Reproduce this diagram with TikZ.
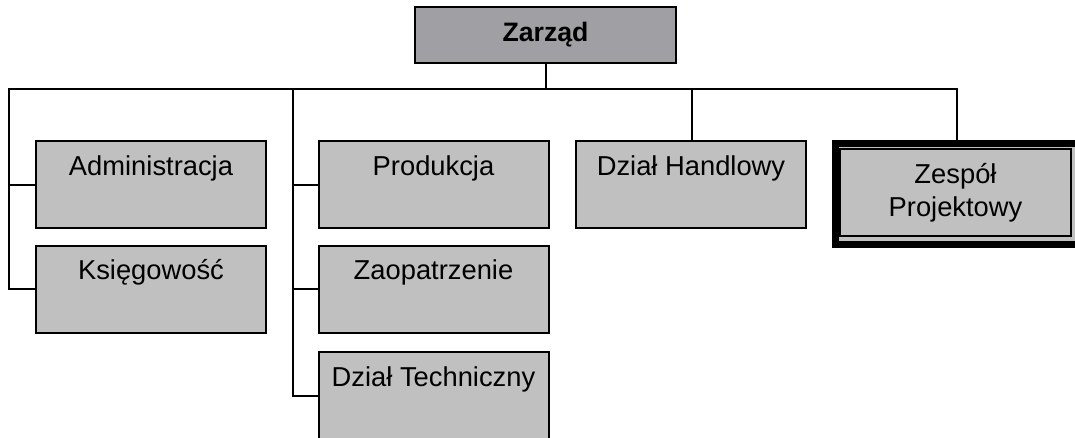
\documentclass[tikz,border=0pt]{standalone}
\usepackage{fontspec}
\setmainfont{Liberation Sans}
\definecolor{boxgray}{RGB}{192,192,192}
\definecolor{topgray}{RGB}{160,160,164}
\begin{document}
\begin{tikzpicture}[x=0.75pt,y=-0.75pt,
  unit/.style={draw=black,line width=1.5pt,fill=boxgray,rectangle,inner sep=0pt,
    minimum width=172.5pt,minimum height=65.25pt},
  txt/.style={anchor=base,inner sep=0pt,font=\fontsize{20.5}{24}\selectfont},
  conn/.style={line width=1.5pt,line cap=rect}]
\useasboundingbox (0,0) rectangle (1075,437);
\clip (0,0) rectangle (1075,437);
% top
\node[draw=black,line width=1.5pt,fill=topgray,rectangle,inner sep=0pt,
  minimum width=195.75pt,minimum height=42pt,font=\bfseries\fontsize{20}{24}\selectfont]
  (zarzad) at (545.5,35) {Zarząd};
% units
\node[unit] (adm)  at (151,184.5) {};
\node[unit] (ksi)  at (151,289) {};
\node[unit] (prod) at (433.5,184.5) {};
\node[unit] (zaop) at (433.5,289) {};
\node[unit] (tech) at (433.5,395.5) {};
\node[unit] (hand) at (691,184.5) {};
\node[txt] (tadm)  at ([yshift=-26.25pt]adm.north)  {Administracja};
\node[txt] (tksi)  at ([yshift=-26.25pt]ksi.north)  {Księgowość};
\node[txt] (tprod) at ([yshift=-26.25pt]prod.north) {Produkcja};
\node[txt] (tzaop) at ([yshift=-26.25pt]zaop.north) {Zaopatrzenie};
\node[txt] (ttech) at ([yshift=-26.25pt]tech.north) {Dział Techniczny};
\node[txt] (thand) at ([yshift=-26.25pt]hand.north) {Dział Handlowy};
% project team
\node[draw=black,line width=5.25pt,fill=boxgray,rectangle,inner sep=0pt,
  minimum width=184.9pt,minimum height=75.75pt] (zesp) at (958.75,194) {};
\node[draw=black,line width=1pt,rectangle,inner sep=0pt,
  minimum width=173.25pt,minimum height=65.25pt,align=center,
  font=\fontsize{20.5}{24.75}\selectfont] (tzesp) at (955.5,192.5) {Zespół\\Projektowy};
% connectors
\coordinate (busL) at (9,89);
\coordinate (bus2) at (293,89);
\coordinate (busH) at (692,89);
\coordinate (busR) at (957,89);
\draw[conn] (zarzad.south) -- (zarzad.south |- busL);
\draw[conn] (busL) -- (busR) -- (busR |- zesp.north);
\draw[conn] (busL) |- (adm.west);
\draw[conn] (busL) |- (ksi.west);
\draw[conn] (bus2) |- (prod.west);
\draw[conn] (bus2) |- (zaop.west);
\draw[conn] (bus2) |- (tech.west);
\draw[conn] (busH) -- (busH |- hand.north);
\end{tikzpicture}
\end{document}
